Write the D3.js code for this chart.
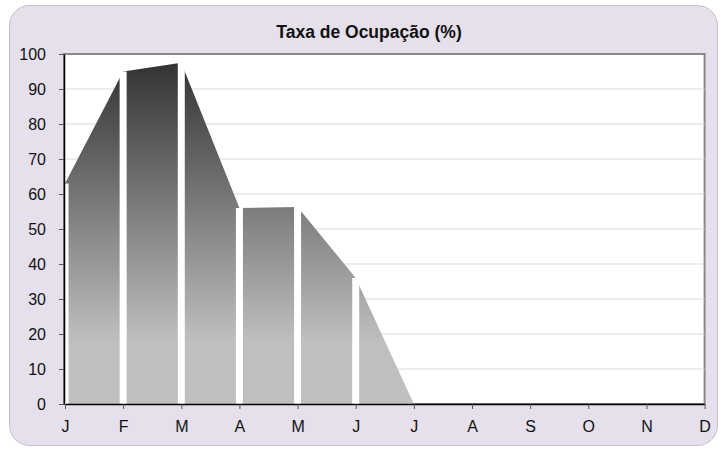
<!DOCTYPE html>
<html>
<head>
<meta charset="utf-8">
<script src="https://cdn.jsdelivr.net/npm/d3@7"></script>
<style>
  body { margin: 0; background: #fff; }
  svg { display: block; font-family: "Liberation Sans", Arial, sans-serif; }
</style>
</head>
<body>
<div id="chart"></div>
<script>
// dados
const meses = ["J", "F", "M", "A", "M", "J", "J", "A", "S", "O", "N", "D"];
const ocupacao = [63, 95, 97.5, 56, 56.3, 36, 0, 0, 0, 0, 0, 0];
const yTicks = [0, 10, 20, 30, 40, 50, 60, 70, 80, 90, 100];
const titulo = "Taxa de Ocupação (%)";

const width = 725, height = 450;
const margin = { top: 54, right: 20.4, bottom: 46, left: 65 };

const svg = d3.select("#chart").append("svg")
    .attr("width", width)
    .attr("height", height);

// fundo arredondado
svg.append("rect")
    .attr("x", 9.5).attr("y", 5.5)
    .attr("width", 708).attr("height", 440)
    .attr("rx", 20).attr("ry", 20)
    .attr("fill", "#e5e0ec")
    .attr("stroke", "#c4c0c8")
    .attr("stroke-width", 1);

const x = d3.scaleLinear()
    .domain([0, meses.length - 1])
    .range([margin.left, width - margin.right]);

const y = d3.scaleLinear()
    .domain([0, 100])
    .range([height - margin.bottom, margin.top]);

// área do gráfico
svg.append("rect")
    .attr("x", x(0) - 1).attr("y", y(100))
    .attr("width", x(11) - x(0) + 1).attr("height", y(0) - y(100))
    .attr("fill", "#fff")
    .attr("stroke", "#888")
    .attr("stroke-width", 2);

// linhas de grade
svg.append("g")
    .selectAll("line")
    .data(yTicks.filter(d => d > 0 && d < 100))
    .enter().append("line")
    .attr("x1", x(0)).attr("x2", x(11))
    .attr("y1", d => y(d)).attr("y2", d => y(d))
    .attr("stroke", "#d9d9d9")
    .attr("stroke-width", 1);

// gradiente
const defs = svg.append("defs");
const grad = defs.append("linearGradient")
    .attr("id", "grad")
    .attr("gradientUnits", "userSpaceOnUse")
    .attr("x1", 0).attr("x2", 0)
    .attr("y1", y(100)).attr("y2", y(18));
grad.append("stop").attr("offset", "0%").attr("stop-color", "#2e2e2e");
grad.append("stop").attr("offset", "100%").attr("stop-color", "#bfbfbf");

defs.append("clipPath").attr("id", "plot-clip")
    .append("rect")
    .attr("x", x(0)).attr("y", y(100))
    .attr("width", x(11) - x(0)).attr("height", y(0) - y(100));

const area = d3.area()
    .x((d, i) => x(i))
    .y0(y(0))
    .y1(d => y(d));

svg.append("path")
    .datum(ocupacao)
    .attr("d", area)
    .attr("fill", "url(#grad)");

// linhas verticais brancas
svg.append("g")
    .attr("clip-path", "url(#plot-clip)")
    .selectAll("line")
    .data(ocupacao)
    .enter().append("line")
    .attr("x1", (d, i) => x(i)).attr("x2", (d, i) => x(i))
    .attr("y1", d => y(d)).attr("y2", y(0))
    .attr("stroke", "#fff")
    .attr("stroke-width", 7);

// eixos
const yAxis = svg.append("g")
    .attr("transform", `translate(${x(0) - 1},0)`)
    .call(d3.axisLeft(y).tickValues(yTicks).tickSize(5).tickPadding(13).tickSizeOuter(0));

const xAxis = svg.append("g")
    .attr("transform", `translate(0,${y(0)})`)
    .call(d3.axisBottom(x).tickValues(d3.range(12))
        .tickFormat(i => meses[i]).tickSize(5).tickPadding(12).tickSizeOuter(0));

[yAxis, xAxis].forEach(g => {
    g.selectAll("text").style("font-size", "16px").attr("fill", "#111");
    g.selectAll(".tick line").attr("stroke", "#555");
    g.select(".domain").attr("stroke", "#000").attr("stroke-width", 1.5);
    g.attr("font-family", null);
});

svg.append("text")
    .attr("x", 369)
    .attr("y", 38)
    .attr("text-anchor", "middle")
    .style("font-size", "17.5px")
    .style("font-weight", "bold")
    .attr("fill", "#111")
    .text(titulo);
</script>
</body>
</html>
